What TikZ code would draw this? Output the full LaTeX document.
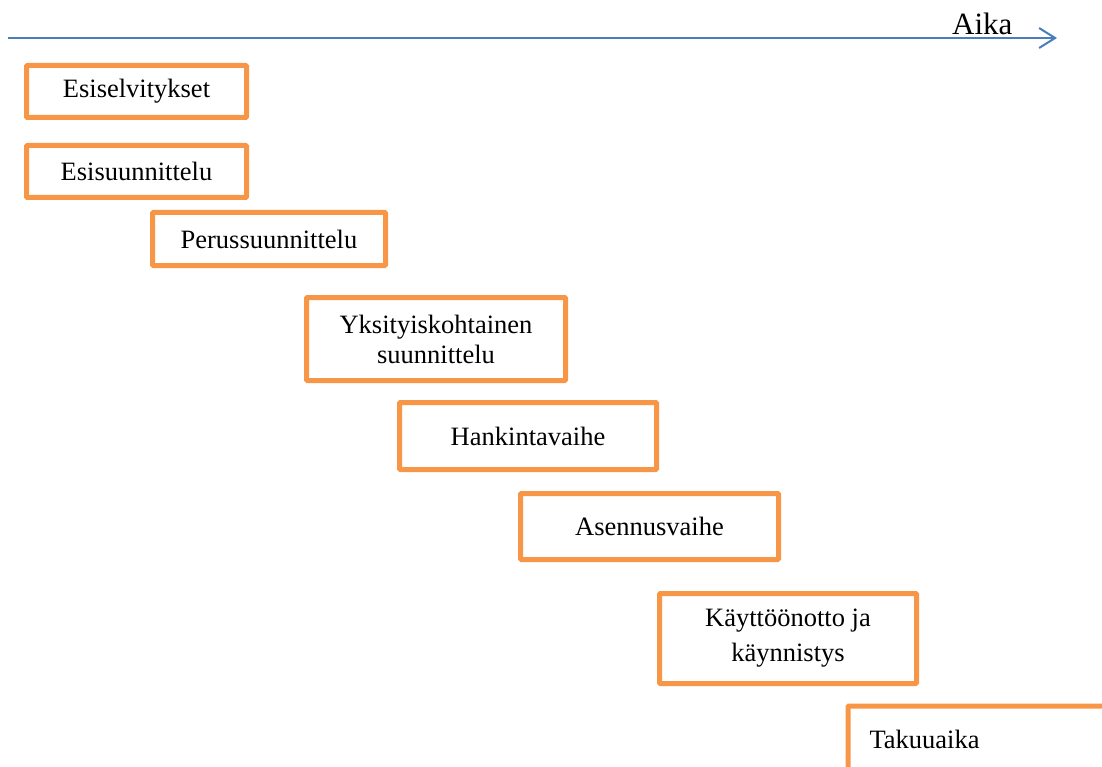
\documentclass[tikz,border=0pt]{standalone}
\usepackage{fontspec}
\setmainfont{Liberation Serif}
\usepackage{xcolor}
\usetikzlibrary{arrows.meta, positioning}
\definecolor{phaseorange}{HTML}{F79646}
\definecolor{timeblue}{HTML}{4A7EBB}

\begin{document}
\begin{tikzpicture}[
  x=1pt, y=-1pt,
  box/.style={rectangle, draw=phaseorange, line width=5pt, rounded corners=1pt, align=center, font=\fontsize{26.5}{30}\selectfont, inner sep=0pt},
  timeline/.style={draw=timeblue, line width=2pt, -{Straight Barb[length=16pt, width=20pt]}}
]
  \path[use as bounding box, clip] (0,0) rectangle (1102,767);
  \coordinate (tstart) at (8,38);
  \coordinate (tend) at (1057,38);
  \draw[timeline] (tstart) -- (tend);
  \node[anchor=base west, inner sep=0pt, font=\fontsize{31}{36}\selectfont] (aika) at (952,35) {Aika};

  \node[box, minimum width=220pt, minimum height=52pt] (esiselv) at (136.5,91.5) {Esiselvitykset};
  \node[box, minimum width=220pt, minimum height=52pt] (esisuun) at (136.5,171.5) {Esisuunnittelu};
  \node[box, minimum width=233pt, minimum height=53pt] (perus) at (269,239) {Perussuunnittelu};
  \node[box, minimum width=259pt, minimum height=83pt] (yksit) at (436,339) {Yksityiskohtainen\\suunnittelu};
  \node[box, minimum width=257pt, minimum height=67pt] (hankinta) at (528,436) {Hankintavaihe};
  \node[box, minimum width=258pt, minimum height=66pt] (asennus) at (649.5,526.5) {Asennusvaihe};
  \node[box, minimum width=257pt, minimum height=90pt] (kaytto) at (788,638.5) {K\"aytt\"o\"onotto ja\\[5pt]k\"aynnistys};
  \node[box, anchor=north west, minimum height=67pt, inner xsep=21.5pt, text width=257pt, align=left] (takuu) at (845.5,703.5) {Takuuaika};
\end{tikzpicture}
\end{document}
